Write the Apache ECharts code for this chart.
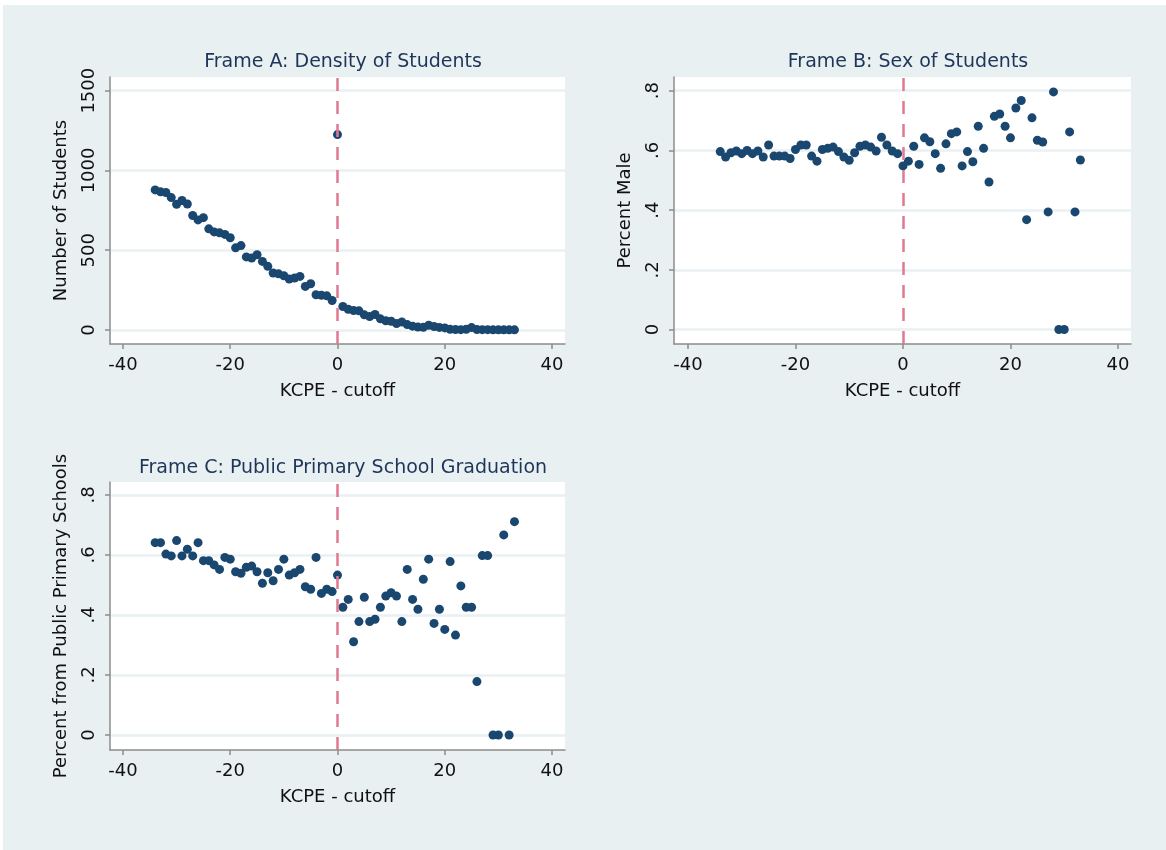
<!DOCTYPE html>
<html>
<head>
<meta charset="utf-8">
<script src="https://cdn.jsdelivr.net/npm/echarts@6/dist/echarts.min.js"></script>
<style>
  html, body { margin:0; padding:0; background:#ffffff; }
  #bg { position:absolute; left:3px; top:5px; width:1163px; height:845px; background:#e8f0f2; }
  #chart { position:absolute; left:0; top:0; width:1166px; height:850px; }
</style>
</head>
<body>
<div id="bg"></div>
<div id="chart"></div>
<script>
// ---- data ----
const kcpe = [-34,-33,-32,-31,-30,-29,-28,-27,-26,-25,-24,-23,-22,-21,-20,-19,-18,-17,-16,-15,-14,-13,-12,-11,-10,-9,-8,-7,-6,-5,-4,-3,-2,-1,0,1,2,3,4,5,6,7,8,9,10,11,12,13,14,15,16,17,18,19,20,21,22,23,24,25,26,27,28,29,30,31,32,33];

const densityStudents = [878,866,862,830,788,812,790,718,690,704,634,615,609,599,578,515,529,458,451,472,430,399,357,352,340,319,326,336,273,290,221,218,214,185,1225,147,130,122,120,95,84,97,70,58,55,40,50,34,24,18,17,30,22,16,13,4,3,2,5,15,3,2,2,1,1,1,1,1];

const percentMale = [0.596,0.578,0.592,0.598,0.589,0.600,0.589,0.598,0.578,0.618,0.581,0.581,0.581,0.573,0.603,0.618,0.618,0.581,0.564,0.603,0.607,0.611,0.596,0.578,0.567,0.592,0.614,0.618,0.611,0.598,0.644,0.618,0.598,0.589,0.548,0.564,0.614,0.553,0.642,0.629,0.589,0.540,0.622,0.656,0.662,0.548,0.596,0.562,0.681,0.607,0.494,0.714,0.722,0.681,0.642,0.742,0.767,0.368,0.709,0.634,0.628,0.394,0.796,0,0,0.662,0.394,0.568];

const percentPublic = [0.641,0.641,0.603,0.597,0.648,0.597,0.619,0.597,0.641,0.581,0.581,0.567,0.552,0.592,0.586,0.544,0.539,0.559,0.563,0.544,0.506,0.541,0.514,0.552,0.586,0.533,0.541,0.552,0.494,0.486,0.592,0.472,0.486,0.478,0.533,0.426,0.452,0.311,0.378,0.459,0.378,0.386,0.426,0.463,0.474,0.463,0.378,0.552,0.452,0.419,0.519,0.586,0.372,0.419,0.352,0.578,0.333,0.497,0.426,0.426,0.178,0.598,0.598,0,0,0.667,0,0.711];

const xTicks = [-40,-20,0,20,40];
const yTicksA = [0,500,1000,1500];
const yTicksShare = [0,0.2,0.4,0.6,0.8];
const cutoff = 0;

const titles = ['Frame A: Density of Students','Frame B: Sex of Students','Frame C: Public Primary School Graduation'];
const xName = 'KCPE - cutoff';
const yNames = ['Number of Students','Percent Male','Percent from Public Primary Schools'];

// ---- styling ----
const FONT = 'DejaVu Sans';
const AXIS_COLOR = '#8c8c8c';
const DOT = '#1a476f';
const TITLE_COLOR = '#1e3559';
const PINK = '#e07a91';
const GRIDLINE = '#e9f1f3';

function shareFmt(v) {
  if (Math.abs(v) < 1e-9) return '0';
  return String(+v.toFixed(1)).replace(/^0\./, '.');
}

function xAxis(gi, min, max) {
  return {
    gridIndex: gi, type: 'value', min: min, max: max,
    axisLine: { show: true, onZero: false, lineStyle: { color: AXIS_COLOR, width: 1.5 } },
    axisTick: { show: true, length: 5, customValues: xTicks, lineStyle: { color: AXIS_COLOR, width: 1.5 } },
    axisLabel: { customValues: xTicks, color: '#111', fontSize: 18, fontFamily: FONT, margin: 12 },
    splitLine: { show: false },
    name: xName, nameLocation: 'middle', nameGap: 38,
    nameTextStyle: { color: '#111', fontSize: 18, fontFamily: FONT }
  };
}
function yAxis(gi, min, max, ticks, fmt, name) {
  return {
    gridIndex: gi, type: 'value', min: min, max: max,
    axisLine: { show: true, onZero: false, lineStyle: { color: AXIS_COLOR, width: 1.5 } },
    axisTick: { show: true, length: 5, customValues: ticks, lineStyle: { color: AXIS_COLOR, width: 1.5 } },
    axisLabel: { customValues: ticks, color: '#111', fontSize: 18, fontFamily: FONT, margin: 12, rotate: 90, formatter: fmt },
    splitLine: { show: true, lineStyle: { color: GRIDLINE, width: 2.5 } },
    name: name, nameLocation: 'middle', nameGap: 40, nameRotate: 90,
    nameTextStyle: { color: '#111', fontSize: 18, fontFamily: FONT }
  };
}
function scatter(gi, ys) {
  return {
    type: 'scatter', xAxisIndex: gi, yAxisIndex: gi,
    data: kcpe.map((x, i) => [x, ys[i]]),
    symbolSize: 9, itemStyle: { color: DOT, opacity: 1 },
    silent: true, animation: false,
    markLine: {
      silent: true, symbol: 'none', animation: false,
      label: { show: false },
      lineStyle: { color: PINK, width: 2.5, type: [13, 10] },
      data: [{ xAxis: cutoff }]
    }
  };
}

const chart = echarts.init(document.getElementById('chart'), null, { renderer: 'canvas' });
chart.setOption({
  backgroundColor: 'transparent',
  animation: false,
  title: [
    { text: titles[0], left: 338, top: 48, textAlign: 'center', textStyle: { color: TITLE_COLOR, fontSize: 19, fontWeight: 'normal', fontFamily: FONT } },
    { text: titles[1], left: 903, top: 48, textAlign: 'center', textStyle: { color: TITLE_COLOR, fontSize: 19, fontWeight: 'normal', fontFamily: FONT } },
    { text: titles[2], left: 338, top: 454, textAlign: 'center', textStyle: { color: TITLE_COLOR, fontSize: 19, fontWeight: 'normal', fontFamily: FONT } }
  ],
  grid: [
    { left: 110, top: 77, width: 455, height: 267, show: true, backgroundColor: '#ffffff', borderWidth: 0 },
    { left: 674, top: 77, width: 457, height: 267, show: true, backgroundColor: '#ffffff', borderWidth: 0 },
    { left: 110, top: 482, width: 455, height: 268, show: true, backgroundColor: '#ffffff', borderWidth: 0 }
  ],
  xAxis: [ xAxis(0, -42.42, 42.42), xAxis(1, -42.6, 42.42), xAxis(2, -42.42, 42.42) ],
  yAxis: [
    yAxis(0, -87.8, 1585.9, yTicksA, v => String(v), yNames[0]),
    yAxis(1, -0.0486, 0.8459, yTicksShare, shareFmt, yNames[1]),
    yAxis(2, -0.05, 0.8433, yTicksShare, shareFmt, yNames[2])
  ],
  series: [ scatter(0, densityStudents), scatter(1, percentMale), scatter(2, percentPublic) ]
});
</script>
</body>
</html>
